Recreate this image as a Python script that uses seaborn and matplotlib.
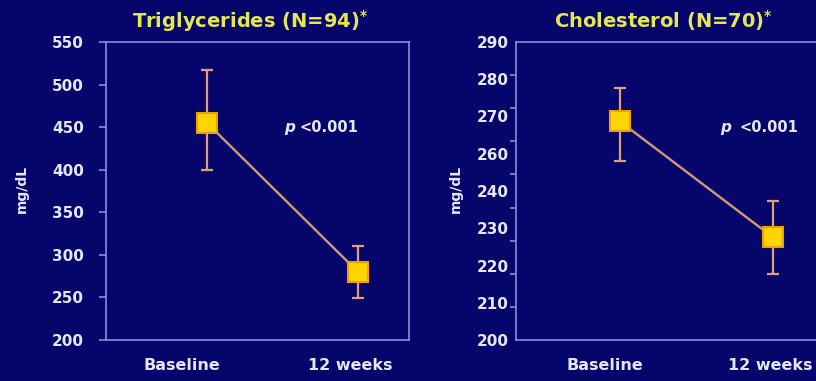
import numpy as np
import pandas as pd
import matplotlib
matplotlib.use("Agg")
import matplotlib.pyplot as plt
import seaborn as sns

# Mean values with error bar limits (mg/dL)
timepoints = ["Baseline", "12 weeks"]
tg_mean = [455, 280]
tg_low = [400, 249]
tg_high = [517, 310]
chol_mean = [266, 231]
chol_low = [254, 220]
chol_high = [276, 242]

tg_ticks = [200, 250, 300, 350, 400, 450, 500, 550]
chol_ticks = [200, 210, 220, 230, 240, 250, 260, 270, 280, 290]
chol_tick_labels = ["200", "210", "220", "230", "240", "260", "270", "280", "290"]

tg_title = "Triglycerides (N=94)$^{*}$"
chol_title = "Cholesterol (N=70)$^{*}$"
p_text = "<0.001"

BG = "#05056c"
SPINE = "#8c8cd2"
TEXT = "#e6e6f8"
TITLE = "#e6e650"
LINE = "#d49a78"
ERR = "#e0a070"
MFACE = "#ffd400"
MEDGE = "#f0a000"

sns.set_theme(style="white")
plt.rcParams["font.family"] = ["DejaVu Sans"]
plt.rcParams["font.weight"] = "bold"
plt.rcParams["mathtext.default"] = "bf"

fig = plt.figure(figsize=(8.16, 3.81), dpi=100)
fig.patch.set_facecolor(BG)

W, H = 816, 381


def panel(rect, mean, low, high, ylim, xlim, label_x, title, title_x, ylabel_x, p_xy, p_gap):
    ax = fig.add_axes([rect[0] / W, 1 - rect[3] / H, (rect[2] - rect[0]) / W, (rect[3] - rect[1]) / H])
    ax.set_facecolor(BG)
    df = pd.DataFrame({"x": [0, 1], "y": mean, "lo": low, "hi": high})
    yerr = np.array([df["y"] - df["lo"], df["hi"] - df["y"]])
    ax.errorbar(df["x"], df["y"], yerr=yerr, fmt="none", ecolor=ERR,
                elinewidth=1.6, capsize=4.5, capthick=1.6, zorder=2)
    sns.lineplot(data=df, x="x", y="y", ax=ax, color=LINE, linewidth=1.7,
                 marker="s", markersize=14, markerfacecolor=MFACE,
                 markeredgecolor=MEDGE, markeredgewidth=1.5, zorder=3)
    ax.set_xlim(*xlim)
    ax.set_ylim(*ylim)
    ax.set_xticks(label_x)
    ax.set_xticklabels(timepoints, color=TEXT, fontsize=11.5, fontweight="bold")
    ax.tick_params(axis="x", length=0, pad=13)
    ax.set_xlabel("")
    ax.set_ylabel("")
    for s in ax.spines.values():
        s.set_color(SPINE)
        s.set_linewidth(1.2)
    ax.spines["right"].set_visible(False)
    fig.text(title_x / W, 1 - 21 / H, title, color=TITLE, fontsize=14,
             fontweight="bold", ha="center", va="center")
    fig.text(ylabel_x / W, 1 - 189 / H, "mg/dL", color=TEXT, fontsize=10,
             fontweight="bold", rotation=90, ha="center", va="center")
    ax.text(p_xy[0], p_xy[1], "p", color=TEXT, fontsize=11, fontstyle="italic",
            fontweight="bold", ha="left", va="center")
    ax.annotate(p_text, xy=p_xy, xytext=(p_gap, 0), textcoords="offset points",
                color=TEXT, fontsize=10.5, fontweight="bold", ha="left", va="center")
    return ax


# Left panel: triglycerides
ax1 = panel((106, 42, 409, 340), tg_mean, tg_low, tg_high, (200, 550),
            (-0.669, 1.338), [-0.166, 0.947], tg_title, 250, 22, (0.51, 450), 11)
ax1.set_yticks(tg_ticks)
ax1.set_yticklabels([str(t) for t in tg_ticks], color=TEXT, fontsize=11, fontweight="bold")
ax1.tick_params(axis="y", length=5, width=1.2, color=SPINE, pad=11, left=True)
ax1.spines["right"].set_visible(True)

# Right panel: cholesterol
ax2 = panel((516, 42, 820, 340), chol_mean, chol_low, chol_high, (200, 290),
            (-0.68, 1.307), [-0.098, 0.98], chol_title, 663, 456, (0.653, 264.3), 14)
ax2.set_yticks(np.linspace(200, 290, len(chol_tick_labels)))
ax2.set_yticklabels(chol_tick_labels, color=TEXT, fontsize=11, fontweight="bold")
ax2.tick_params(axis="y", which="major", length=0, pad=5, left=True)
ax2.set_yticks(chol_ticks, minor=True)
ax2.tick_params(axis="y", which="minor", length=4, width=1.2, color=SPINE, left=True)

fig.savefig("out.png", dpi=100, facecolor=BG)
